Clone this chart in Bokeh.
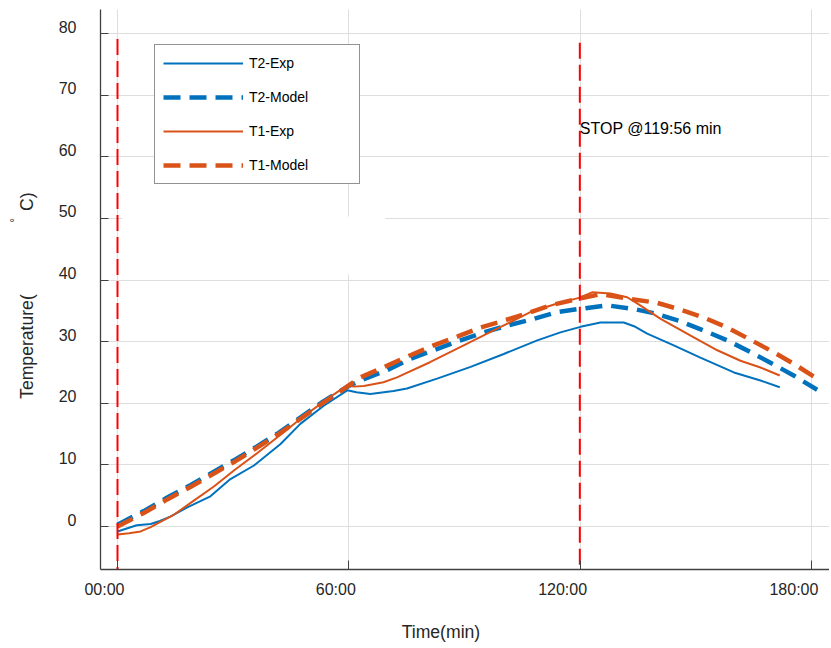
from math import pi
from bokeh.plotting import figure
from bokeh.models import (Range1d, FixedTicker, Label, Legend, LegendItem,
                          BoxAnnotation, CustomJSTickFormatter, Grid)
from bokeh.embed import file_html
from bokeh.resources import INLINE

# ---------------- data ----------------
x_ticks = [0, 60, 120, 180]
x_tick_labels = ["00:00", "60:00", "120:00", "180:00"]
y_ticks = [0, 10, 20, 30, 40, 50, 60, 70, 80]
y_tick_labels = ["0", "10", "20", "30", "40", "50", "60", "70", "80"]

t2_exp_t = [0, 2, 5, 8.6, 11, 13.7, 18.1, 24.1, 29.3, 35.4, 42.3, 47.5, 53.5, 59.6,
            62, 65.6, 71.6, 75.1, 82.9, 91.6, 100.2, 108.9, 114.9, 120.1, 125.3,
            131.3, 134, 137.4, 144.3, 151.2, 159.9, 166.8, 171.8]
t2_exp_T = [-0.8, -0.4, 0.2, 0.4, 0.9, 1.6, 3.1, 4.9, 7.7, 9.9, 13.4, 16.7, 19.6, 22.1,
            21.8, 21.5, 22.0, 22.4, 24.0, 25.9, 28.0, 30.2, 31.5, 32.4, 33.1,
            33.1, 32.5, 31.3, 29.4, 27.4, 25.0, 23.7, 22.6]

t2_mod_t = [0, 6.8, 12.9, 18.9, 25, 30.6, 36.2, 41.8, 47.5, 52.7, 57.8, 60, 63, 70, 76,
            82, 88, 95, 101.1, 108, 114, 119.7, 121, 127, 133.9, 140, 146, 152.1,
            158.2, 164.2, 170.2, 175.4, 181.5]
t2_mod_T = [0.3, 2.5, 4.7, 6.7, 8.9, 10.9, 13.0, 15.2, 17.7, 20.0, 22.0, 22.8, 23.7, 25.4,
            27.2, 28.6, 30.0, 31.5, 32.6, 33.7, 34.8, 35.3, 35.4, 35.9, 35.3, 34.5,
            33.3, 31.8, 30.2, 28.3, 26.3, 24.5, 22.2]

t1_exp_t = [0, 3, 6, 8.6, 11, 14.6, 19.8, 25, 30.2, 36.2, 42.3, 47.5, 54.4, 59.6, 61.3,
            63.9, 69, 72.5, 81.2, 89.8, 98.5, 107.1, 114.1, 119.7, 123.1, 127.9,
            132.2, 134.8, 140.9, 149.5, 155.6, 161.6, 166.8, 171.8]
t1_exp_T = [-1.3, -1.1, -0.8, -0.1, 0.7, 1.9, 4.2, 6.5, 9.1, 11.9, 14.9, 17.5, 20.7, 22.9,
            22.7, 22.8, 23.4, 24.2, 26.7, 29.4, 32.1, 34.8, 36.2, 37.1, 38.0, 37.8,
            37.2, 36.2, 33.7, 30.7, 28.6, 26.9, 25.8, 24.5]

t1_mod_t = [0, 6.8, 12.9, 18.9, 25, 30.6, 36.2, 41.8, 47.5, 52.7, 57.8, 60, 63, 70, 76,
            82, 88.1, 94.2, 100.2, 106.3, 112.3, 118.4, 125.3, 132.2, 140, 146, 152.1,
            158.2, 164.2, 170.2, 175.4, 181.5]
t1_mod_T = [0.0, 2.2, 4.4, 6.4, 8.6, 10.6, 12.8, 15.0, 17.5, 19.8, 21.9, 22.9, 24.2, 26.1,
            27.8, 29.4, 30.8, 32.3, 33.4, 34.6, 35.9, 36.8, 37.7, 37.0, 36.3, 35.2,
            33.9, 32.3, 30.3, 28.3, 26.4, 24.0]

marker_t = [0, 119.93]
marker_top = [79.1, 78.5]
stop_text = "STOP @119:56 min"
stop_text_y = 64.6

# ---------------- style / layout ----------------
BLUE = "#0072BD"
ORANGE = "#D95319"
AXIS_COLOR = "#404040"
TEXT_COLOR = "#262626"
GRID_COLOR = "#dedede"
FONT = "Liberation Sans"

# visible ranges of the whole canvas (the axes sit inside at fixed locations)
XR = (-30.35, 184.7)
YR = (-19.31, 85.36)
AX_X = -4.41    # where the y axis sits (x value)
AX_Y = -6.98    # where the x axis sits (y value)
TOP = 83.9      # top of the axes box

p = figure(width=829, height=645, output_backend="svg", toolbar_location=None,
           x_range=Range1d(*XR), y_range=Range1d(*YR),
           min_border_left=0, min_border_right=0, min_border_top=0,
           min_border_bottom=0)
p.outline_line_color = None
p.background_fill_color = "white"
p.border_fill_color = "white"

xa = p.xaxis[0]
ya = p.yaxis[0]
xa.fixed_location = AX_Y
ya.fixed_location = AX_X
xa.bounds = (AX_X, XR[1])
ya.bounds = (AX_Y, TOP)
for ax in (xa, ya):
    ax.axis_line_color = AXIS_COLOR
    ax.axis_line_width = 1.3
    ax.major_tick_line_color = AXIS_COLOR
    ax.major_tick_line_width = 1
    ax.major_tick_in = 8
    ax.major_tick_out = 0
    ax.minor_tick_line_color = None
    ax.formatter = CustomJSTickFormatter(code="return ''")
    ax.major_label_standoff = 0
    ax.major_label_text_font_size = "1px"
xa.major_tick_in = 9
xa.ticker = FixedTicker(ticks=x_ticks)
ya.ticker = FixedTicker(ticks=y_ticks)

has_cross = "cross_bounds" in Grid.properties()
if has_cross:
    p.xgrid.cross_bounds = (AX_Y, TOP)
    p.ygrid.cross_bounds = (AX_X, XR[1])
    for g in (p.xgrid, p.ygrid):
        g.grid_line_color = GRID_COLOR
        g.grid_line_width = 1
else:
    p.xgrid.visible = False
    p.ygrid.visible = False
    p.segment(x0=x_ticks, y0=[AX_Y] * len(x_ticks), x1=x_ticks, y1=[TOP] * len(x_ticks),
              line_color=GRID_COLOR, line_width=1)
    p.segment(x0=[AX_X] * len(y_ticks), y0=y_ticks, x1=[XR[1]] * len(y_ticks), y1=y_ticks,
              line_color=GRID_COLOR, line_width=1)

# blank patch over the grid in the original
p.add_layout(BoxAnnotation(left=1.3, right=69.5, bottom=40.9, top=50.3,
                           fill_color="white", fill_alpha=1.0, line_color=None))

r_t2e = p.line(t2_exp_t, t2_exp_T, line_color=BLUE, line_width=2)
r_t2m = p.line(t2_mod_t, t2_mod_T, line_color=BLUE, line_width=4.5, line_dash="17 9")
r_t1e = p.line(t1_exp_t, t1_exp_T, line_color=ORANGE, line_width=2)
r_t1m = p.line(t1_mod_t, t1_mod_T, line_color=ORANGE, line_width=4.5, line_dash="17 9")

p.segment(x0=marker_t, y0=marker_top, x1=marker_t, y1=[AX_Y] * len(marker_t),
          line_color="#FF0000", line_width=2, line_dash="16 6")

p.add_layout(Label(x=marker_t[1], y=stop_text_y, text=stop_text, text_align="left",
                   text_baseline="middle", text_font=FONT, text_font_size="16px",
                   text_color="black"))

# tick labels
for t, lab in zip(x_ticks, x_tick_labels):
    p.add_layout(Label(x=t, y=AX_Y, x_offset=7, y_offset=-19.5, text=lab,
                       text_align="right", text_baseline="middle", text_font=FONT,
                       text_font_size="16px", text_color=TEXT_COLOR))
for v, lab in zip(y_ticks, y_tick_labels):
    p.add_layout(Label(x=AX_X, y=v, x_offset=-24, y_offset=7, text=lab,
                       text_align="right", text_baseline="middle", text_font=FONT,
                       text_font_size="16px", text_color=TEXT_COLOR))

# axis titles
p.add_layout(Label(x=83.9, y=AX_Y, y_offset=-62, text="Time(min)", text_align="center",
                   text_baseline="middle", text_font=FONT, text_font_size="17.6px",
                   text_color=TEXT_COLOR))
p.add_layout(Label(x=-23.5, y=29.2, text="Temperature(", angle=pi / 2,
                   text_align="center", text_baseline="middle", text_font=FONT,
                   text_font_size="17.6px", text_color=TEXT_COLOR))
p.add_layout(Label(x=-26.7, y=49.7, text="°", angle=pi / 2,
                   text_align="center", text_baseline="middle", text_font=FONT,
                   text_font_size="12px", text_color=TEXT_COLOR))
p.add_layout(Label(x=-23.5, y=52.7, text="C)", angle=pi / 2,
                   text_align="center", text_baseline="middle", text_font=FONT,
                   text_font_size="17.6px", text_color=TEXT_COLOR))

legend = Legend(items=[LegendItem(label="T2-Exp", renderers=[r_t2e]),
                       LegendItem(label="T2-Model", renderers=[r_t2m]),
                       LegendItem(label="T1-Exp", renderers=[r_t1e]),
                       LegendItem(label="T1-Model", renderers=[r_t1m])],
                location=(154, 461), orientation="vertical", margin=0,
                border_line_color="#262626", border_line_width=1,
                background_fill_color="white", background_fill_alpha=1.0,
                label_text_font=FONT, label_text_font_size="14px",
                label_text_color="black", label_text_baseline="alphabetic",
                glyph_width=80, glyph_height=20,
                label_height=20, label_width=102, label_standoff=6, spacing=14,
                padding=8)
p.add_layout(legend)

open("out.html", "w").write(file_html(p, INLINE))
